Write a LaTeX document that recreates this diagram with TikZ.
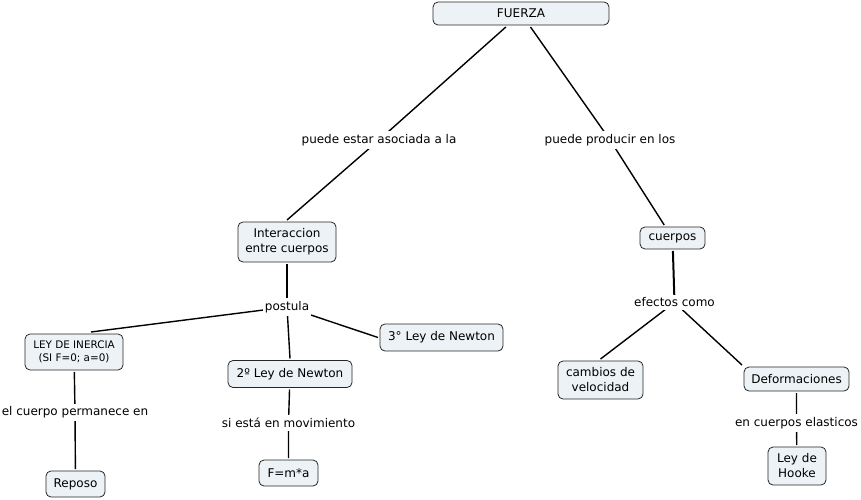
\documentclass[tikz,border=0pt]{standalone}
\usepackage{fontspec}
\setmainfont{DejaVu Sans}
\usetikzlibrary{backgrounds,calc}
\definecolor{cfill}{RGB}{236,242,245}
\begin{document}
\begin{tikzpicture}[x=1pt,y=-1pt,
  concept/.style={draw=black!85, fill=cfill, rounded corners=5pt, line width=0.8pt,
    font=\fontsize{12}{15}\selectfont, align=center, inner sep=0pt, outer sep=2pt},
  small/.style={font=\fontsize{10.4}{12.5}\selectfont},
  link/.style={fill=white, font=\fontsize{12}{15}\selectfont, inner xsep=2pt, inner ysep=3pt},
  conn/.style={line width=1.4pt, black}]
\useasboundingbox (0,0) rectangle (861,500);
% concepts
\node[concept, minimum width=176pt, minimum height=23pt] (fuerza) at (521,13.5) {FUERZA};
\node[concept, minimum width=98pt, minimum height=40pt] (inter) at (287,242) {Interaccion\\entre cuerpos};
\node[concept, minimum width=65pt, minimum height=22pt] (cuerpos) at (672.5,238) {cuerpos};
\node[concept, small, minimum width=98pt, minimum height=36pt] (ley) at (74,352) {LEY DE INERCIA\\(SI F=0; a=0)};
\node[concept, minimum width=124pt, minimum height=27pt] (segunda) at (290,374) {2º Ley de Newton};
\node[concept, minimum width=123pt, minimum height=27pt] (tercera) at (441.5,337.5) {3° Ley de Newton};
\node[concept, minimum width=59pt, minimum height=26pt] (fma) at (288.5,473) {F=m*a};
\node[concept, minimum width=59pt, minimum height=26pt] (reposo) at (75.5,484) {Reposo};
\node[concept, minimum width=85pt, minimum height=38pt] (cambios) at (600.5,380) {cambios de\\velocidad};
\node[concept, minimum width=105pt, minimum height=24pt] (deform) at (796.5,379) {Deformaciones};
\node[concept, minimum width=58pt, minimum height=38pt] (hooke) at (797,466) {Ley de\\Hooke};
% linking phrases
\node[link] (l1) at (379,140) {puede estar asociada a la};
\node[link] (l2) at (610,140) {puede producir en los};
\node[link] (l3) at (674.5,302.5) {efectos como};
\node[link] (l4) at (287,307) {postula};
\node[link] (l5) at (75,412.5) {el cuerpo permanece en};
\node[link] (l6) at (288.5,423) {si está en movimiento};
\node[link] (l7) at (796.5,423) {en cuerpos elasticos};
\coordinate (leytop) at ($(ley.north)+(17,0)$);
% connectors
\begin{scope}[on background layer]
\draw[conn] (fuerza) -- (l1.center) -- (inter.north);
\draw[conn] (fuerza) -- (l2.center) -- (cuerpos);
\draw[conn, line width=2pt] (cuerpos) -- (l3.center);
\draw[conn] (l3.center) -- (cambios.north);
\draw[conn] (l3.center) -- (deform.north west);
\draw[conn] (inter) -- (l4.center);
\draw[conn] (l4.center) -- (leytop);
\draw[conn] (l4.center) -- (segunda.north);
\draw[conn] (l4.center) -- (tercera.west);
\draw[conn] (ley) -- (l5.center) -- (reposo);
\draw[conn] (segunda) -- (l6.center) -- (fma);
\draw[conn] (deform) -- (l7.center) -- (hooke);
\end{scope}
\end{tikzpicture}
\end{document}
